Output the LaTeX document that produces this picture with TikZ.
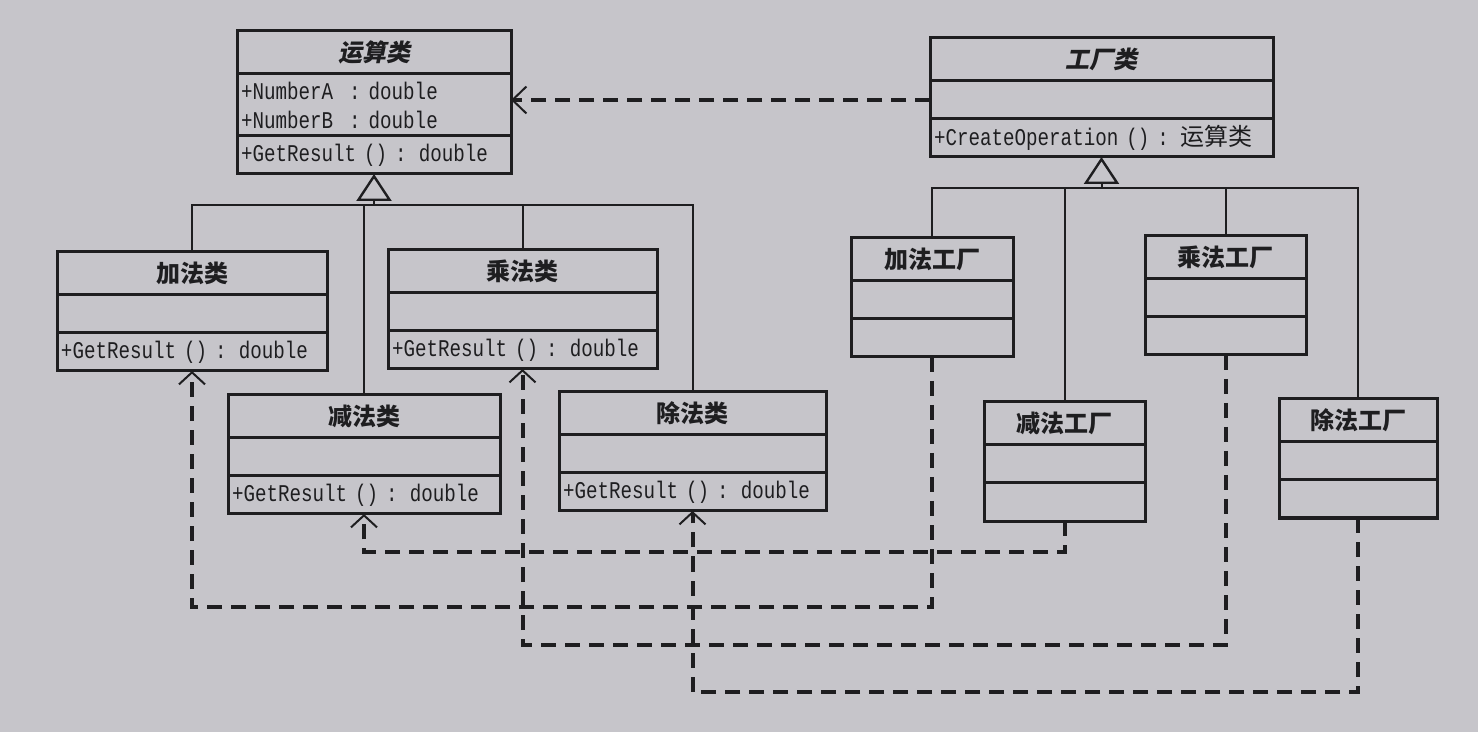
\documentclass[tikz,border=0pt]{standalone}
\usepackage{fontspec}
\newfontfamily\cjk{Noto Sans CJK SC}
\newfontfamily\cjkit[FakeSlant=0.2]{Noto Sans CJK SC}
\newfontfamily\umlmono[FakeStretch=0.8]{Liberation Mono}
\usetikzlibrary{positioning,arrows.meta}
\definecolor{paper}{RGB}{198,197,202}
\definecolor{ink}{RGB}{30,30,32}
\tikzset{
  classhead/.style={draw=ink, text=ink, line width=1.5pt, outer sep=0pt, inner sep=0pt,
    minimum height=21.5pt, font=\cjk\bfseries\fontsize{12}{14}\selectfont},
  classpart/.style={draw=ink, text=ink, line width=1.5pt, outer sep=0pt, minimum width=#1,
    minimum height=19pt, text width=#1-4pt, inner xsep=2pt, inner ysep=0pt, align=left,
    font=\umlmono\fontsize{12}{14.5}\selectfont},
  tree/.style={draw=ink, line width=1pt},
  gen/.style={tree, -{Triangle[open, length=13.5pt, width=17.5pt, line width=1.2pt]}},
  dep/.style={draw=ink, line width=2pt, dash pattern=on 7.5pt off 4.5pt,
    -{Straight Barb[length=6pt, width=13pt, line width=1pt]}},
}
% [attr height]{name}{x}{y}{width}{title}{attributes}{operations}
\newcommand{\umlclass}[8][19pt]{%
  \node[classhead, minimum width=#5, anchor=north west] (#2) at (#3,#4) {#6};
  \node[classpart=#5, minimum height=#1, below=0pt of #2] (#2-a) {#7};
  \node[classpart=#5, below=0pt of #2-a] (#2-m) {#8};
}
\begin{document}
\begin{tikzpicture}[x=0.5pt, y=-0.5pt]
\fill[paper] (0,0) rectangle (1478,732);
\useasboundingbox (0,0) rectangle (1478,732);

% operations
\umlclass[31pt]{op}{237}{31}{137pt}{\cjkit\bfseries 运算类}
  {+NumberA\ \ : double\\+NumberB\ \ : double}{+GetResult () : double}
\umlclass{add}{57}{252}{135pt}{加法类}{}{+GetResult () : double}
\umlclass{mul}{388}{250}{134.5pt}{乘法类}{}{+GetResult () : double}
\umlclass{sub}{228}{395}{136pt}{减法类}{}{+GetResult () : double}
\umlclass{div}{559}{392}{133.5pt}{除法类}{}{+GetResult () : double}

% factories
\umlclass{fac}{930}{38}{171.5pt}{\cjkit\bfseries 工厂类}{}
  {+CreateOperation () : {\cjk 运算类}}
\umlclass{fadd}{851}{238}{81pt}{加法工厂}{}{}
\umlclass{fmul}{1145}{236}{80.5pt}{乘法工厂}{}{}
\umlclass{fsub}{984}{402}{80.5pt}{减法工厂}{}{}
\umlclass{fdiv}{1279}{399}{79pt}{除法工厂}{}{}

% inheritance
\coordinate[below=15.5pt of op-m.south] (opj);
\draw[gen] (opj) -- (op-m.south);
\draw[tree] (add.north) |- (opj -| div.north) -- (div.north);
\draw[tree] (sub.north) -- (sub.north |- opj);
\draw[tree] (mul.north) -- (mul.north |- opj);

\coordinate[below=15.5pt of fac-m.south] (facj);
\draw[gen] (facj) -- (fac-m.south);
\draw[tree] (fadd.north) |- (facj -| fdiv.north) -- (fdiv.north);
\draw[tree] (fsub.north) -- (fsub.north |- facj);
\draw[tree] (fmul.north) -- (fmul.north |- facj);

% dependencies
\draw[dep, -{Straight Barb[length=7pt, width=13.5pt, line width=1pt]}]
  (fac-a.west) -- (fac-a.west -| op-a.east);
\coordinate (lvsub) at (0,552);
\coordinate (lvadd) at (0,607);
\coordinate (lvmul) at (0,645);
\coordinate (lvdiv) at (0,692);
\draw[dep] (fsub-m.south) |- (sub-m.south |- lvsub) -- (sub-m.south);
\draw[dep] (fadd-m.south) |- (add-m.south |- lvadd) -- (add-m.south);
\draw[dep] (fmul-m.south) |- (mul-m.south |- lvmul) -- (mul-m.south);
\draw[dep] (fdiv-m.south) |- (div-m.south |- lvdiv) -- (div-m.south);
\end{tikzpicture}
\end{document}
